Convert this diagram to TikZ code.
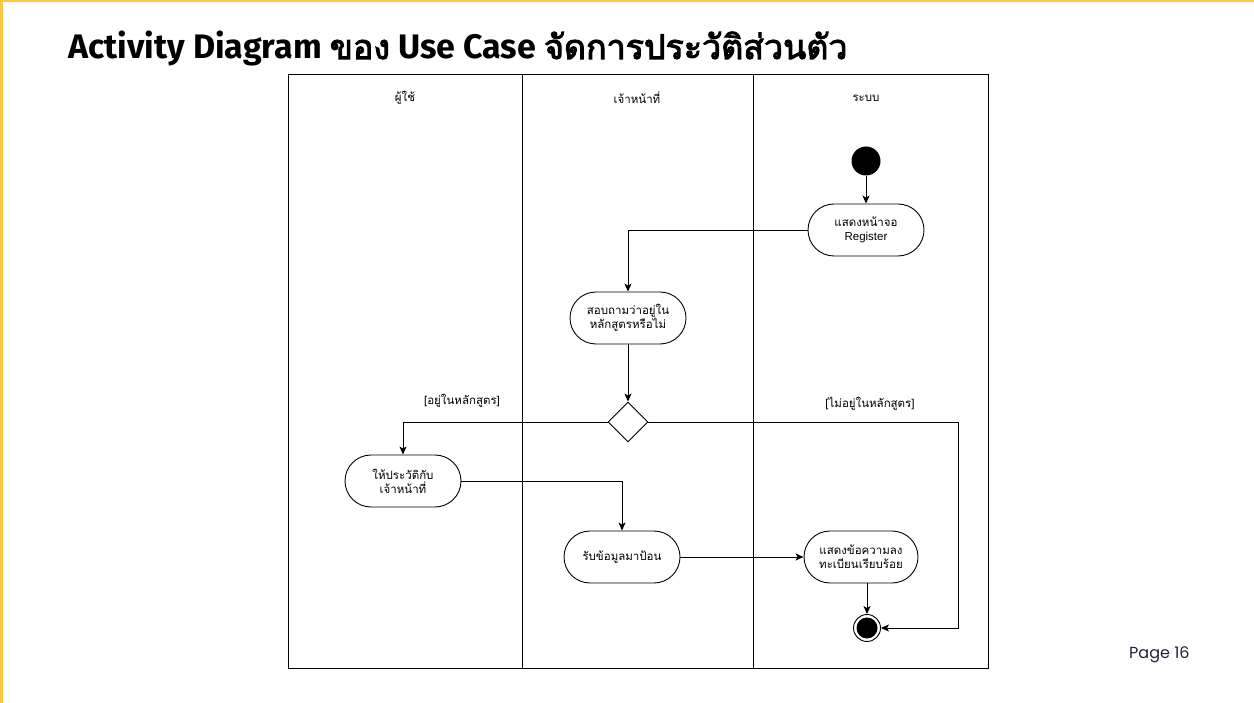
\documentclass[tikz,border=0pt]{standalone}
\usepackage{fontspec}
\usetikzlibrary{arrows.meta,shapes.geometric,positioning}
\setmainfont{Liberation Sans}
\newfontfamily\thaifont[Script=Thai]{Loma}
\newfontfamily\thaibold[Script=Thai, FakeBold=3]{Loma}
\newfontfamily\titlefont{Fira Sans Bold}
\newfontfamily\pagefont{Poppins}
\definecolor{slideyellow}{HTML}{FFC845}
\definecolor{pagetext}{HTML}{22223A}

\begin{document}
\begin{tikzpicture}[
  x=1pt, y=-1pt,
  line width=0.9pt,
  act/.style={rectangle, rounded corners=26pt, draw, minimum width=116pt,
    minimum height=52pt, align=center, font=\thaifont\fontsize{11.5}{14}\selectfont},
  lane/.style={font=\thaifont\fontsize{11.5}{14}\selectfont},
  guard/.style={font=\thaifont\fontsize{11.5}{14}\selectfont},
  flow/.style={-{Stealth[length=8pt,width=7pt,inset=2pt]}}
]
\useasboundingbox (0,0) rectangle (1254,703);
\fill[slideyellow] (0,0) rectangle (1254,2.5);
\fill[slideyellow] (0,0) rectangle (2.5,703);

\node[anchor=base west, inner sep=0pt] (title) at (68,59)
  {\titlefont\fontsize{34}{40}\selectfont Activity Diagram {\thaibold ของ} Use Case {\thaibold จัดการประวัติส่วนตัว}};
\node[anchor=base east, inner sep=0pt, text=pagetext] (page) at (1190,658)
  {\pagefont\fontsize{16}{20}\selectfont Page 16};

% swimlanes
\draw (288,74) rectangle (988,668);
\draw (522,74) -- (522,668);
\draw (753,74) -- (753,668);
\node[lane] (laneuser) at (405,98) {ผู้ใช้};
\node[lane] (laneofficer) at (637,98) {เจ้าหน้าที่};
\node[lane] (lanesys) at (866,98) {ระบบ};

% nodes
\node[circle, fill, minimum size=29pt, inner sep=0pt] (init) at (866,161) {};
\node[act] (reg) at (866,230) {แสดงหน้าจอ\\{\fontspec{Liberation Sans}Register}};
\node[act] (ask) at (628,318) {สอบถามว่าอยู่ใน\\หลักสูตรหรือไม่};
\node[diamond, draw, fill=white, minimum size=40pt, inner sep=0pt] (dec) at (628,422) {};
\node[act] (give) at (403,481) {ให้ประวัติกับ\\เจ้าหน้าที่};
\node[act] (recv) at (622,557) {รับข้อมูลมาป้อน};
\node[act, minimum width=114pt] (done) at (861,557) {แสดงข้อความลง\\ทะเบียนเรียบร้อย};
\node[circle, draw, minimum size=27pt, inner sep=0pt] (fin) at (867,628) {};
\fill (fin) circle (10.5pt);

\node[guard] (gyes) at (462,401) {[อยู่ในหลักสูตร]};
\node[guard] (gno) at (870,404) {[ไม่อยู่ในหลักสูตร]};

% flows
\draw[flow] (init) -- (reg);
\draw[flow] (reg.west) -| (ask.north);
\draw[flow] (ask) -- (dec);
\draw[flow] (dec.west) -| (give.north);
\draw[flow] (dec.east) -- (958,422) |- (fin.east);
\draw[flow] (give.east) -| (recv.north);
\draw[flow] (recv) -- (done);
\draw[flow] (done.south -| fin) -- (fin);
\end{tikzpicture}
\end{document}
